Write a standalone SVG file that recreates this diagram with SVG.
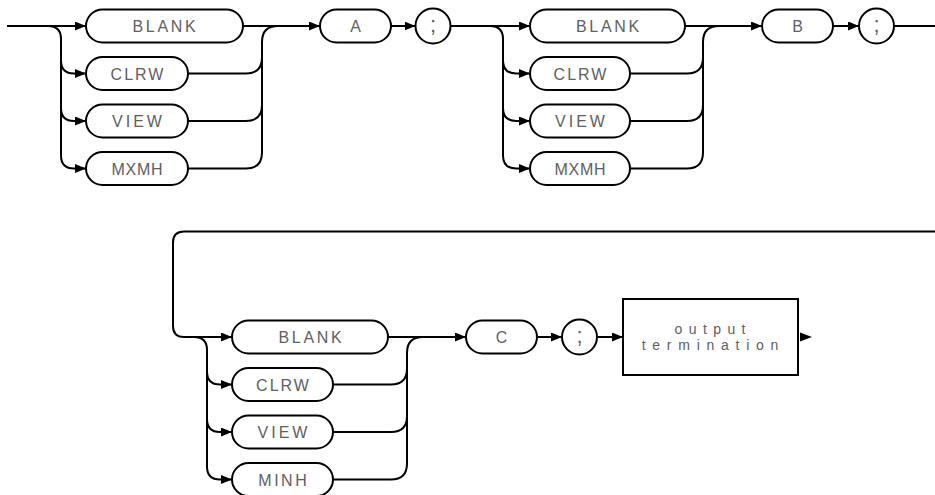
<svg xmlns="http://www.w3.org/2000/svg" width="935" height="495" viewBox="0 0 935 495">
<defs>
<marker id="ah" markerUnits="userSpaceOnUse" markerWidth="12" markerHeight="10" refX="11" refY="4.5" orient="auto">
<path d="M0,0 L11,4.5 L0,9 z" fill="#000"/>
</marker>
<style>
.p{fill:#fff;stroke:#000;stroke-width:2}
.c path{fill:none;stroke:#000;stroke-width:2}
.c path.a{marker-end:url(#ah)}
.t{font-family:"Liberation Sans",Arial,sans-serif;font-size:16px;fill:#606060;text-anchor:middle}
.o{font-family:"Liberation Sans",Arial,sans-serif;font-size:14px;fill:#606060;text-anchor:middle}
.s{font-family:"Liberation Sans",Arial,sans-serif;font-size:22px;fill:#606060;text-anchor:middle}
</style>
</defs>
<rect width="935" height="495" fill="#fff"/>
<g class="c" id="connectors">
<path class="a" d="M7,26 H86"/>
<path class="a" d="M48,26 Q61,26 61,39 V155.5 Q61,168.5 74,168.5 H86"/>
<path class="a" d="M61,60.5 Q61,73.5 74,73.5 H86"/>
<path class="a" d="M61,108 Q61,121 74,121 H86"/>
<path class="a" d="M243,26 H320"/>
<path d="M188,168.5 H246 Q262,168.5 262,152.5 V42 Q262,26 278,26"/>
<path d="M188,73.5 H246 Q262,73.5 262,57.5"/>
<path d="M188,121 H246 Q262,121 262,105"/>
<path class="a" d="M391,26 H415.5"/>
<path class="a" d="M450.5,26 H530"/>
<path class="a" d="M490,26 Q503,26 503,39 V155.5 Q503,168.5 516,168.5 H530"/>
<path class="a" d="M503,60.5 Q503,73.5 516,73.5 H530"/>
<path class="a" d="M503,108 Q503,121 516,121 H530"/>
<path class="a" d="M685,26 H762"/>
<path d="M630,168.5 H687 Q703,168.5 703,152.5 V42 Q703,26 719,26"/>
<path d="M630,73.5 H687 Q703,73.5 703,57.5"/>
<path d="M630,121 H687 Q703,121 703,105"/>
<path class="a" d="M833,26 H859"/>
<path d="M894,26 H935"/>
<path class="a" d="M935,231.5 H184 Q173,231.5 173,242.5 V326 Q173,337 184,337 H232"/>
<path class="a" d="M194,337 Q207,337 207,350 V466.5 Q207,479.5 220,479.5 H232"/>
<path class="a" d="M207,371.5 Q207,384.5 220,384.5 H232"/>
<path class="a" d="M207,419 Q207,432 220,432 H232"/>
<path class="a" d="M388,337 H466"/>
<path d="M333,479.5 H391 Q407,479.5 407,463.5 V353 Q407,337 423,337"/>
<path d="M333,384.5 H391 Q407,384.5 407,368.5"/>
<path d="M333,432 H391 Q407,432 407,416"/>
<path class="a" d="M537,337 H562"/>
<path class="a" d="M597,337 H623"/>
<path d="M800,332.5 L812,337 L800,341.5 z" style="fill:#000;stroke:none"/>
</g>
<g id="blank1"><rect class="p" x="86" y="9.5" width="157" height="33" rx="16.5"/><text class="t" x="165.4" y="32" letter-spacing="2.7">BLANK</text></g>
<g id="clrw1"><rect class="p" x="86" y="57" width="102" height="33" rx="16.5"/><text class="t" x="138" y="79.5" letter-spacing="2">CLRW</text></g>
<g id="view1"><rect class="p" x="86" y="104.5" width="102" height="33" rx="16.5"/><text class="t" x="138.5" y="127" letter-spacing="3">VIEW</text></g>
<g id="mxmh1"><rect class="p" x="86" y="152" width="102" height="33" rx="16.5"/><text class="t" x="137.4" y="174.5" letter-spacing="0.7">MXMH</text></g>
<g id="a"><rect class="p" x="320" y="9.5" width="71" height="33" rx="16.5"/><text class="t" x="355.5" y="32">A</text></g>
<g id="semi1"><circle class="p" cx="433" cy="26" r="17.5"/><text class="s" x="433" y="31.5">;</text></g>
<g id="blank2"><rect class="p" x="530" y="9.5" width="155" height="33" rx="16.5"/><text class="t" x="608.9" y="32" letter-spacing="2.7">BLANK</text></g>
<g id="clrw2"><rect class="p" x="530" y="57" width="100" height="33" rx="16.5"/><text class="t" x="581" y="79.5" letter-spacing="2">CLRW</text></g>
<g id="view2"><rect class="p" x="530" y="104.5" width="100" height="33" rx="16.5"/><text class="t" x="581.5" y="127" letter-spacing="3">VIEW</text></g>
<g id="mxmh2"><rect class="p" x="530" y="152" width="100" height="33" rx="16.5"/><text class="t" x="580.4" y="174.5" letter-spacing="0.7">MXMH</text></g>
<g id="b"><rect class="p" x="762" y="9.5" width="71" height="33" rx="16.5"/><text class="t" x="797.5" y="32">B</text></g>
<g id="semi2"><circle class="p" cx="876.5" cy="26" r="17.5"/><text class="s" x="876.5" y="31.5">;</text></g>
<g id="blank3"><rect class="p" x="232" y="320.5" width="156" height="33" rx="16.5"/><text class="t" x="311.4" y="343" letter-spacing="2.7">BLANK</text></g>
<g id="clrw3"><rect class="p" x="232" y="368" width="101" height="33" rx="16.5"/><text class="t" x="283.5" y="390.5" letter-spacing="2">CLRW</text></g>
<g id="view3"><rect class="p" x="232" y="415.5" width="101" height="33" rx="16.5"/><text class="t" x="284" y="438" letter-spacing="3">VIEW</text></g>
<g id="minh3"><rect class="p" x="232" y="463" width="101" height="33" rx="16.5"/><text class="t" x="283.8" y="485.5" letter-spacing="2.5">MINH</text></g>
<g id="c"><rect class="p" x="466" y="320.5" width="71" height="33" rx="16.5"/><text class="t" x="501.5" y="343">C</text></g>
<g id="semi3"><circle class="p" cx="579.5" cy="337" r="17.5"/><text class="s" x="579.5" y="342.5">;</text></g>
<g id="output"><rect class="p" x="623" y="299" width="175" height="76"/><text class="o" x="713.2" y="333.5" letter-spacing="6.4">output</text><text class="o" x="713.4" y="350" letter-spacing="6.75">termination</text></g>
</svg>
